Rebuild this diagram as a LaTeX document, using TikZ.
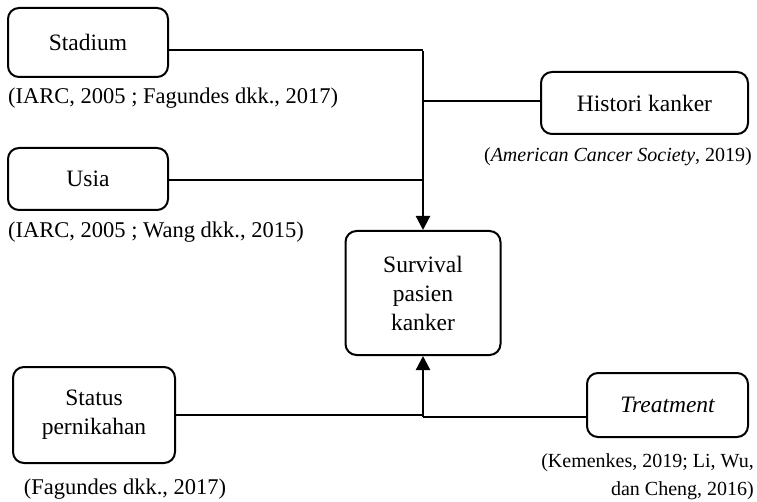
\documentclass[tikz,border=0pt]{standalone}
\usepackage{fontspec}
\setmainfont{Liberation Serif}
\usetikzlibrary{arrows.meta}
\tikzset{
  box/.style={draw, line width=2pt, rounded corners=11pt, align=center, inner sep=0pt, font=\fontsize{23.5}{29}\selectfont},
  cite/.style={inner sep=0pt, font=\fontsize{22.5}{28}\selectfont},
  citesm/.style={inner sep=0pt, font=\fontsize{20}{28}\selectfont},
  link/.style={line width=1.4pt},
  mainarrow/.style={line width=2.2pt, -{Triangle[length=14pt,width=14pt]}}
}
\begin{document}
\begin{tikzpicture}[x=1pt,y=-1pt]
\useasboundingbox (0,0) rectangle (757,502);
% boxes
\node[box, minimum width=160pt, minimum height=69pt] (stadium) at (88,42.5) {Stadium};
\node[box, minimum width=160pt, minimum height=62pt] (usia) at (88,179) {Usia};
\node[box, minimum width=207pt, minimum height=62pt] (histori) at (644.5,103) {Histori kanker};
\node[box, minimum width=155pt, minimum height=124pt] (surv) at (423,293) {Survival\\pasien\\kanker};
\node[box, minimum width=162pt, minimum height=96pt] (status) at (94,415) {Status\\pernikahan};
\node[box, minimum width=161pt, minimum height=64pt] (treat) at (667.5,405) {\itshape Treatment};
% citations
\node[cite, anchor=west] (c1) at (8,98) {(IARC, 2005 ; Fagundes dkk., 2017)};
\node[citesm, anchor=east] (c2) at (752,157) {(\textit{American Cancer Society}, 2019)};
\node[cite, anchor=west] (c3) at (8,232) {(IARC, 2005 ; Wang dkk., 2015)};
\node[cite] (c4) at (125,489) {(Fagundes dkk., 2017)};
\node[citesm, anchor=east, align=right] (c5) at (754,477) {(Kemenkes, 2019; Li, Wu,\\dan Cheng, 2016)};
% junctions
\coordinate (j1) at (423,50);
\coordinate (j2) at (423,101);
\coordinate (j3) at (423,180);
\coordinate (j4) at (423,415);
\coordinate (j5) at (423,417);
% connectors
\draw[link] (stadium.east |- j1) -- (j1);
\draw[link] (j2) -- (histori.west |- j2);
\draw[link] (usia.east |- j3) -- (j3);
\draw[link] (status.east |- j4) -- (j4);
\draw[link] (j5) -- (treat.west |- j5);
\draw[mainarrow] ([yshift=-0.7pt]j1) -- (surv.north);
\draw[mainarrow] (j5) -- (surv.south);
\end{tikzpicture}
\end{document}
